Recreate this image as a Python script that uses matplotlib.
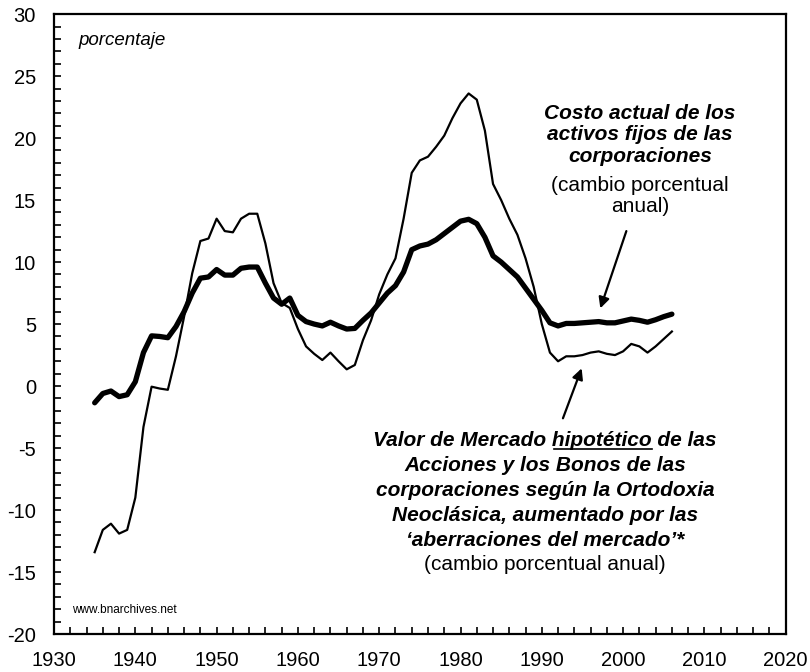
import matplotlib
matplotlib.use("Agg")
import matplotlib.pyplot as plt
from matplotlib.ticker import MultipleLocator
from matplotlib.lines import Line2D

plt.rcParams['font.family'] = ['Liberation Sans', 'DejaVu Sans']
plt.rcParams['axes.unicode_minus'] = False

years = list(range(1935, 2007))

# Costo actual de los activos fijos (thick line)
fixed_assets = [
    -1.35, -0.6, -0.4, -0.85, -0.7, 0.35, 2.7, 4.05, 4.0, 3.9,
    4.8, 6.0, 7.5, 8.7, 8.8, 9.4, 8.95, 8.95, 9.5, 9.6,
    9.6, 8.3, 7.1, 6.6, 7.1, 5.7, 5.2, 5.0, 4.85, 5.15,
    4.85, 4.6, 4.65, 5.3, 5.9, 6.7, 7.5, 8.1, 9.2, 11.0,
    11.3, 11.45, 11.8, 12.3, 12.8, 13.3, 13.45, 13.1, 12.0, 10.5,
    10.0, 9.4, 8.8, 7.9, 7.0, 6.1, 5.1, 4.85, 5.05, 5.05,
    5.1, 5.15, 5.2, 5.1, 5.1, 5.25, 5.4, 5.3, 5.15, 5.35,
    5.6, 5.8,
]

# Valor de Mercado hipotetico (thin line)
market_value = [
    -13.4, -11.6, -11.1, -11.9, -11.6, -9.0, -3.3, -0.05, -0.2, -0.3,
    2.4, 5.6, 9.1, 11.7, 11.9, 13.5, 12.5, 12.4, 13.5, 13.9,
    13.9, 11.5, 8.3, 6.7, 6.3, 4.6, 3.2, 2.6, 2.1, 2.7,
    2.0, 1.35, 1.7, 3.7, 5.3, 7.4, 9.0, 10.3, 13.5, 17.2,
    18.2, 18.5, 19.3, 20.2, 21.6, 22.8, 23.6, 23.1, 20.6, 16.3,
    15.0, 13.5, 12.2, 10.3, 8.0, 5.0, 2.7, 2.0, 2.4, 2.4,
    2.5, 2.7, 2.8, 2.6, 2.5, 2.8, 3.4, 3.2, 2.7, 3.2,
    3.8, 4.4,
]

fig = plt.figure(figsize=(8.1, 6.72), dpi=100)
ax = fig.add_axes([0.0667, 0.0565, 0.9033, 0.9225])

ax.plot(years, market_value, color='black', lw=1.6, solid_joinstyle='round')
ax.plot(years, fixed_assets, color='black', lw=3.8, solid_joinstyle='round',
        solid_capstyle='round')

ax.set_xlim(1930, 2020)
ax.set_ylim(-20, 30)
ax.xaxis.set_major_locator(MultipleLocator(10))
ax.xaxis.set_minor_locator(MultipleLocator(2))
ax.yaxis.set_major_locator(MultipleLocator(5))
ax.yaxis.set_minor_locator(MultipleLocator(1))
ax.tick_params(axis='both', which='both', direction='in', length=5, width=1.2,
               colors='black', labelsize=14.5)
ax.tick_params(axis='x', which='major', pad=12)
ax.tick_params(axis='y', which='major', pad=13)
for s in ax.spines.values():
    s.set_linewidth(1.6)
    s.set_color('black')

ax.text(0.033, 0.958, 'porcentaje', transform=ax.transAxes, fontsize=13.5,
        style='italic', va='center', ha='left')
ax.text(0.025, 0.038, 'www.bnarchives.net', transform=ax.transAxes,
        fontsize=8.5, va='center', ha='left')

fs = 15

# top-right annotation
x_top = 2002.1
ax.text(x_top, (386 - 134.5) / 12.4, 'Costo actual de los\nactivos fijos de las\ncorporaciones',
        fontsize=fs, weight='bold', style='italic', ha='center', va='center',
        linespacing=1.17)
ax.text(x_top, (386 - 196) / 12.4, '(cambio porcentual\nanual)', fontsize=fs,
        ha='center', va='center', linespacing=1.17)
ax.annotate('', xy=(1997.2, 6.27), xytext=(2000.4, 12.5),
            arrowprops=dict(arrowstyle='-|>', color='black', lw=1.6,
                            mutation_scale=16, shrinkA=0, shrinkB=0))

# bottom annotation
lines_bottom = [
    'Valor de Mercado hipotético de las',
    'Acciones y los Bonos de las',
    'corporaciones según la Ortodoxia',
    'Neoclásica, aumentado por las',
    '‘aberraciones del mercado’*',
]
x_c = 1990.4
y0 = -4.43
dy = 2.0
texts = []
for i, s in enumerate(lines_bottom):
    t = ax.text(x_c, y0 - i * dy, s, fontsize=fs, weight='bold',
                style='italic', ha='center', va='center')
    texts.append(t)
ax.text(x_c, y0 - 5 * dy, '(cambio porcentual anual)', fontsize=fs,
        ha='center', va='center')
ax.annotate('', xy=(1994.9, 1.43), xytext=(1992.6, -2.6),
            arrowprops=dict(arrowstyle='-|>', color='black', lw=1.6,
                            mutation_scale=16, shrinkA=0, shrinkB=0))

# underline "hipotético"
fig.canvas.draw()
r = fig.canvas.get_renderer()
full = texts[0].get_window_extent(r)
pre = ax.text(0, 0, 'Valor de Mercado ', fontsize=fs, weight='bold',
              style='italic')
word = ax.text(0, 0, 'Valor de Mercado hipotético', fontsize=fs,
               weight='bold', style='italic')
w_pre = pre.get_window_extent(r).width
w_word = word.get_window_extent(r).width
pre.remove()
word.remove()
x1 = full.x0 + w_pre + 2
x2 = full.x0 + w_word
yl = full.y0 + 1
fig.add_artist(Line2D([x1 / fig.bbox.width, x2 / fig.bbox.width],
                      [yl / fig.bbox.height, yl / fig.bbox.height],
                      color='black', lw=1.2, transform=fig.transFigure))

fig.savefig('out.png', dpi=100)
